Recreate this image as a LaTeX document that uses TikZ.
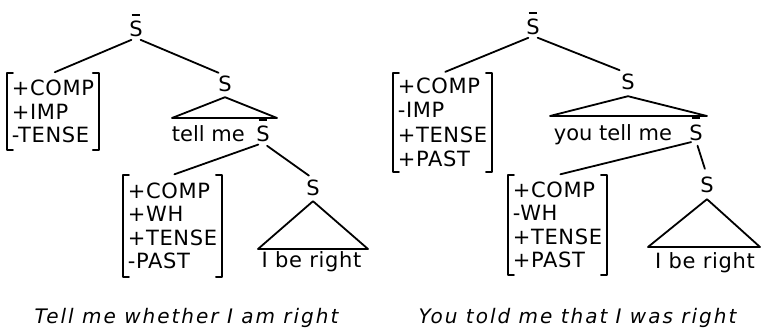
\documentclass[tikz,border=0pt]{standalone}
\usepackage{fontspec}
\setmainfont{DejaVu Sans}[LetterSpace=3]
\newfontfamily\wordfont{DejaVu Sans}
\newfontfamily\capfont{DejaVu Sans}[LetterSpace=10]
% S with a short bar above it
\newcommand\barS{\leavevmode\hbox{\ooalign{S\cr\hidewidth\raisebox{1.02em}{\rule{0.42em}{0.09em}}\hidewidth\cr}}}
% square brackets drawn around a feature node
\newcommand\featbrackets[1]{%
  \draw ([xshift=6pt]#1.north west) -- (#1.north west) -- (#1.south west) -- ([xshift=6pt]#1.south west);
  \draw ([xshift=-6pt]#1.north east) -- (#1.north east) -- (#1.south east) -- ([xshift=-6pt]#1.south east);}
\begin{document}
\begin{tikzpicture}[x=1pt,y=-1pt,line width=1.8pt,line cap=round,line join=round,
  lab/.style={inner sep=0pt,font=\fontsize{21}{24}\selectfont},
  words/.style={inner sep=0pt,anchor=base west,font=\wordfont\fontsize{21}{24}\selectfont},
  feat/.style={inner xsep=4pt,inner ysep=0pt,align=left,anchor=north west,
    font=\fontsize{21}{23.5}\selectfont},
  caption/.style={inner sep=0pt,anchor=base,font=\capfont\itshape\fontsize{20}{24}\selectfont}]
\useasboundingbox (0,0) rectangle (761,329);

% ---------- left tree ----------
\node[lab,anchor=base] (top1) at (136,37) {\barS};
\node[feat,minimum height=75pt] (b1) at (7,73) {+COMP\\+IMP\\-TENSE};
\featbrackets{b1}
\node[lab,anchor=base] (s1) at (225,92) {S};
\draw[shorten <=5pt,shorten >=2pt] (top1.south) -- (b1.north);
\draw[shorten <=5pt,shorten >=7pt] (top1.south) -- (s1.north);
\node[words] (tell1) at (171,142) {tell me};
\node[lab,anchor=base] (sb1) at (263,142) {\barS};
\coordinate (t1l) at (172,118);
\coordinate (t1r) at (277,118);
\draw ([yshift=-4pt]s1.south) -- (t1l) -- (t1r) -- cycle;

\node[feat,minimum height=100pt] (b2) at (123,175) {+COMP\\+WH\\+TENSE\\-PAST};
\featbrackets{b2}
\node[lab,anchor=base] (s2) at (313,195) {S};
\draw[shorten <=5pt,shorten >=2pt] (sb1.south) -- (b2.north);
\draw[shorten <=5pt,shorten >=5pt] (sb1.south) -- (s2.north);
\node[lab,anchor=base] (ibr1) at (311.5,267) {I be right};
\coordinate (t2l) at (258,249);
\coordinate (t2r) at (368,249);
\draw ([yshift=-5pt]s2.south) -- (t2l) -- (t2r) -- cycle;

\node[caption] (cap1) at (186.5,323) {Tell me whether I am right};

% ---------- right tree ----------
\node[lab,anchor=base] (top2) at (533,35) {\barS};
\node[feat,minimum height=97pt,font=\fontsize{21}{24.5}\selectfont] (b3) at (393,73) {+COMP\\-IMP\\+TENSE\\+PAST};
\featbrackets{b3}
\node[lab,anchor=base] (s3) at (628,90) {S};
\draw[shorten <=5pt,shorten >=3pt] (top2.south) -- (b3.north);
\draw[shorten <=5pt,shorten >=9pt] (top2.south) -- (s3.north);
\node[words] (you) at (553,140) {you tell me};
\node[lab,anchor=base] (sb2) at (696,140) {\barS};
\coordinate (t3l) at (550,116);
\coordinate (t3r) at (707,116);
\draw ([yshift=-5pt]s3.south) -- (t3l) -- (t3r) -- cycle;

\node[feat,minimum height=98pt] (b4) at (508,175) {+COMP\\-WH\\+TENSE\\+PAST};
\featbrackets{b4}
\node[lab,anchor=base] (s4) at (707,192) {S};
\draw[shorten <=5pt,shorten >=3pt] (sb2.south) -- (b4.north);
\draw[shorten <=5pt,shorten >=7pt] (sb2.south) -- (s4.north);
\node[lab,anchor=base] (ibr2) at (705,268) {I be right};
\coordinate (t4l) at (648,247);
\coordinate (t4r) at (760,247);
\draw ([yshift=-6pt]s4.south) -- (t4l) -- (t4r) -- cycle;

\node[caption] (cap2) at (577.5,323) {You told me that I was right};
\end{tikzpicture}
\end{document}
